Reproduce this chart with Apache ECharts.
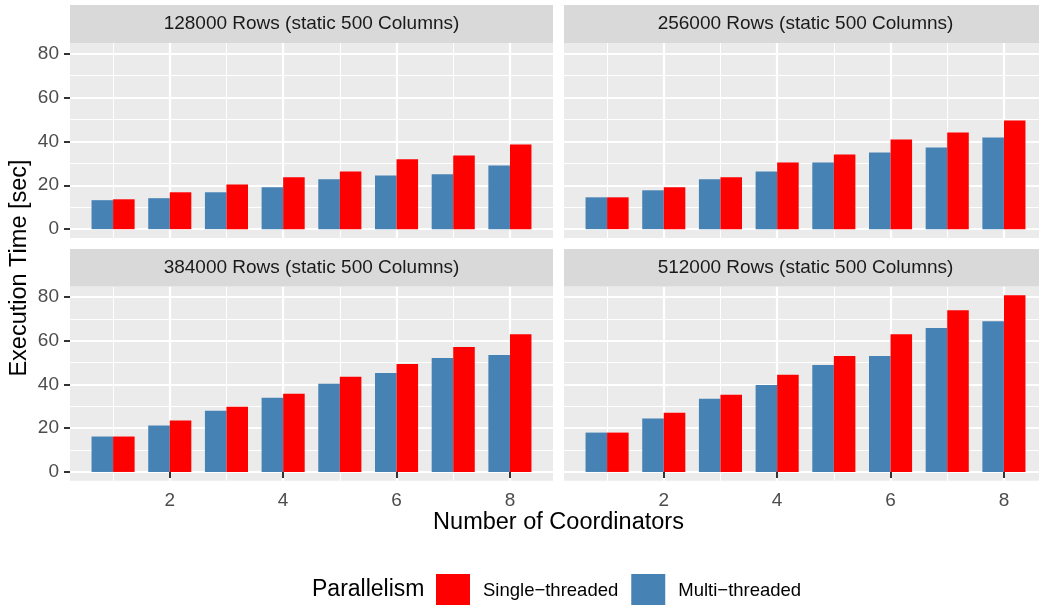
<!DOCTYPE html>
<html><head><meta charset="utf-8">
<script src="https://cdn.jsdelivr.net/npm/echarts@6/dist/echarts.min.js"></script>
<style>html,body{margin:0;padding:0;background:#fff}#c{width:1039px;height:605px}</style>
</head><body><div id="c"></div>
<script>
// ---- data ----
const coordinators = [1, 2, 3, 4, 5, 6, 7, 8];
const panelTitles = [
  '128000 Rows (static 500 Columns)',
  '256000 Rows (static 500 Columns)',
  '384000 Rows (static 500 Columns)',
  '512000 Rows (static 500 Columns)'
];
const multi128 = [13.2, 14.1, 16.8, 19.1, 22.7, 24.5, 25.0, 29.0];
const single128 = [13.6, 16.8, 20.4, 23.6, 26.3, 31.8, 33.6, 38.6];
const multi256 = [14.5, 17.7, 22.7, 26.3, 30.4, 34.9, 37.2, 41.8];
const single256 = [14.5, 19.1, 23.6, 30.4, 34.0, 40.8, 44.0, 49.5];
const multi384 = [16.2, 21.2, 28.0, 33.9, 40.3, 45.3, 52.1, 53.5];
const single384 = [16.2, 23.5, 29.8, 35.8, 43.5, 49.4, 57.1, 63.0];
const multi512 = [18.0, 24.4, 33.5, 39.8, 48.9, 53.0, 65.8, 68.9];
const single512 = [18.0, 27.1, 35.3, 44.4, 53.0, 63.0, 73.9, 80.8];
const xTickValues = [2, 4, 6, 8];
const xMinorValues = [1, 3, 5, 7];
const yTickValues = [0, 20, 40, 60, 80];
const yMinorValues = [10, 30, 50, 70];
const seriesNames = ['Single\u2212threaded', 'Multi\u2212threaded'];

// ---- layout ----
const FONT = 'Liberation Sans';
const multiData = [multi128, multi256, multi384, multi512];
const singleData = [single128, single256, single384, single512];
const X_MIN = 0.24, X_MAX = 8.76, Y_MIN = -4.04, Y_MAX = 84.84;
const panels = [
  { left: 70, top: 43, height: 195, stripTop: 5, stripH: 38, showY: true, showX: false },
  { left: 564, top: 43, height: 195, stripTop: 5, stripH: 38, showY: false, showX: false },
  { left: 70, top: 286.4, height: 194.4, stripTop: 249, stripH: 37.4, showY: true, showX: true },
  { left: 564, top: 286.4, height: 194.4, stripTop: 249, stripH: 37.4, showY: false, showX: true }
];
const PANEL_W = 483;

const grids = [], xAxes = [], yAxes = [], series = [], graphics = [];
panels.forEach((p, i) => {
  grids.push({ left: p.left, top: p.top, width: PANEL_W, height: p.height,
    show: true, backgroundColor: '#EBEBEB', borderWidth: 0, containLabel: false, outerBoundsMode: 'none' });
  // major x axis
  xAxes.push({ gridIndex: i, type: 'value', min: X_MIN, max: X_MAX, position: 'bottom',
    axisLine: { show: false },
    axisTick: { show: p.showX, customValues: xTickValues, length: 6, lineStyle: { color: '#333333', width: 2 } },
    axisLabel: { show: p.showX, customValues: xTickValues, color: '#4D4D4D', fontSize: 19, fontFamily: FONT, margin: 10 },
    splitLine: { show: true, lineStyle: { color: '#FFFFFF', width: 2.2 } },
    minorSplitLine: { show: false }
  });
  // minor x axis
  xAxes.push({ gridIndex: i, type: 'value', min: X_MIN, max: X_MAX, position: 'top',
    axisLine: { show: false },
    axisTick: { show: false, customValues: xMinorValues },
    axisLabel: { show: false, customValues: xMinorValues },
    splitLine: { show: true, lineStyle: { color: '#FFFFFF', width: 1.1 } }
  });
  // major y axis
  yAxes.push({ gridIndex: i, type: 'value', min: Y_MIN, max: Y_MAX, position: 'left',
    axisLine: { show: false },
    axisTick: { show: p.showY, customValues: yTickValues, length: 6, lineStyle: { color: '#333333', width: 2 } },
    axisLabel: { show: p.showY, customValues: yTickValues, color: '#4D4D4D', fontSize: 19, fontFamily: FONT, margin: 11 },
    splitLine: { show: true, lineStyle: { color: '#FFFFFF', width: 2.2 } }
  });
  // minor y axis
  yAxes.push({ gridIndex: i, type: 'value', min: Y_MIN, max: Y_MAX, position: 'right',
    axisLine: { show: false },
    axisTick: { show: false, customValues: yMinorValues },
    axisLabel: { show: false, customValues: yMinorValues },
    splitLine: { show: true, lineStyle: { color: '#FFFFFF', width: 1.1 } }
  });
  const common = { type: 'bar', xAxisIndex: 2 * i, yAxisIndex: 2 * i, barWidth: '38%', barGap: '0%',
    emphasis: { disabled: true }, animation: false, z: 5 };
  series.push(Object.assign({}, common, { name: seriesNames[1], itemStyle: { color: '#4682B4', borderWidth: 0 },
    data: coordinators.map((c, k) => [c, multiData[i][k]]) }));
  series.push(Object.assign({}, common, { name: seriesNames[0], itemStyle: { color: '#FF0000', borderWidth: 0 },
    data: coordinators.map((c, k) => [c, singleData[i][k]]) }));
  // strip
  graphics.push({ type: 'rect', left: p.left, top: p.stripTop, z: 10,
    shape: { width: PANEL_W, height: p.stripH }, style: { fill: '#D9D9D9' } });
  graphics.push({ type: 'text', x: p.left + PANEL_W / 2, y: p.stripTop + p.stripH / 2, z: 11,
    style: { text: panelTitles[i], fill: '#1A1A1A', font: '19px "' + FONT + '"', align: 'center', verticalAlign: 'middle' } });
});

graphics.push({ type: 'text', x: 558.5, y: 523, z: 11,
  style: { text: 'Number of Coordinators', fill: '#000000', font: '23.5px "' + FONT + '"', align: 'center', verticalAlign: 'middle' } });
graphics.push({ type: 'text', x: 20, y: 268, rotation: Math.PI / 2, z: 11,
  style: { text: 'Execution Time [sec]', fill: '#000000', font: '23.5px "' + FONT + '"', align: 'center', verticalAlign: 'middle' } });
graphics.push({ type: 'text', x: 312, y: 590, z: 11,
  style: { text: 'Parallelism', fill: '#000000', font: '23px "' + FONT + '"', align: 'left', verticalAlign: 'middle' } });

const chart = echarts.init(document.getElementById('c'), null, { renderer: 'canvas' });
chart.setOption({
  animation: false,
  backgroundColor: '#FFFFFF',
  grid: grids,
  xAxis: xAxes,
  yAxis: yAxes,
  legend: {
    data: seriesNames, left: 436, top: 574, orient: 'horizontal', padding: 0,
    itemWidth: 34, itemHeight: 34, itemGap: 13, icon: 'rect', selectedMode: false,
    textStyle: { fontSize: 18.5, fontFamily: FONT, color: '#000000', padding: [0, 0, 0, 8] }
  },
  tooltip: { show: false },
  series: series,
  graphic: graphics
});
</script></body></html>
